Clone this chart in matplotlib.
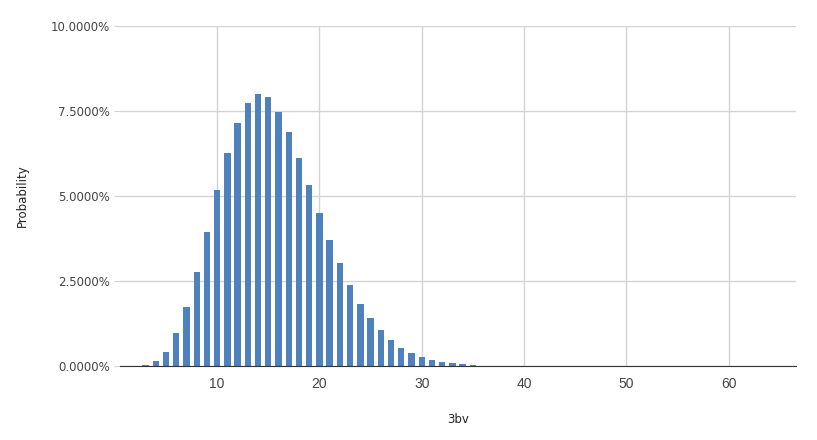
import matplotlib
matplotlib.use("Agg")
import matplotlib.pyplot as plt
from matplotlib.ticker import FuncFormatter

# valores de 3bv y su probabilidad (en %)
bv = [3, 4, 5, 6, 7, 8, 9, 10, 11, 12, 13, 14, 15, 16, 17, 18, 19, 20,
      21, 22, 23, 24, 25, 26, 27, 28, 29, 30, 31, 32, 33, 34, 35, 36, 37]
prob = [0.03, 0.16, 0.42, 0.96, 1.74, 2.77, 3.95, 5.18, 6.27, 7.16, 7.73, 8.00,
        7.90, 7.48, 6.89, 6.13, 5.32, 4.51, 3.71, 3.02, 2.38, 1.83, 1.40, 1.06,
        0.76, 0.54, 0.39, 0.26, 0.19, 0.11, 0.08, 0.05, 0.025, 0.012, 0.005]
x_ticks = [10, 20, 30, 40, 50, 60]
y_ticks = [0, 2.5, 5, 7.5, 10]

fig = plt.figure(figsize=(8.17, 4.4), dpi=100)
ax = fig.add_axes([0.1469, 0.1682, 0.8274, 0.7727])

ax.bar(bv, prob, width=0.62, color='#4f81bd', zorder=3)

ax.set_xlim(0.5, 66.6)
ax.set_ylim(0, 10)
ax.set_xticks(x_ticks)
ax.set_yticks(y_ticks)
ax.yaxis.set_major_formatter(FuncFormatter(lambda v, p: '%.4f%%' % v))

ax.grid(True, color='#d4d4d4', linewidth=1, zorder=0)
for lado in ['top', 'right', 'left']:
  ax.spines[lado].set_visible(False)
ax.spines['bottom'].set_color('#333333')
ax.spines['bottom'].set_zorder(4)

ax.tick_params(axis='y', length=4, color='#d4d4d4', pad=3, labelsize=8.5, labelcolor='#444444')
ax.tick_params(axis='x', length=0, pad=8, labelcolor='#444444')
for etiqueta in ax.get_xticklabels():
  etiqueta.set_fontfamily('Liberation Sans')
  etiqueta.set_fontsize(10)

ax.set_ylabel('Probability', fontsize=8.5, color='#222222', labelpad=16)
ax.set_xlabel('3bv', fontsize=8.5, color='#222222', labelpad=16)

fig.savefig('out.png', dpi=100)
